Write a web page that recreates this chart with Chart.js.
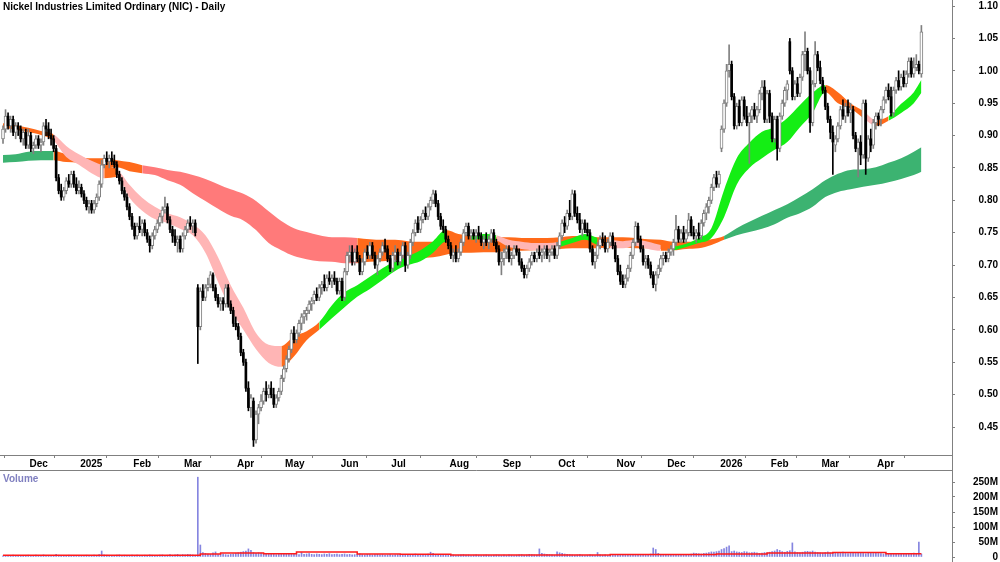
<!DOCTYPE html>
<html>
<head>
<meta charset="utf-8">
<title>NIC - Daily</title>
<script src="https://cdn.jsdelivr.net/npm/chart.js@4.4.0/dist/chart.umd.min.js"></script>
<style>
  html, body { margin: 0; padding: 0; background: #fff; }
  #wrap { position: relative; width: 1000px; height: 562px; overflow: hidden; background: #fff; }
  #priceChart { position: absolute; left: 0; top: 0; }
  #volumeChart { position: absolute; left: 0; top: 470px; }
</style>
</head>
<body>
<div id="wrap">
  <canvas id="priceChart" width="1000" height="470"></canvas>
  <canvas id="volumeChart" width="1000" height="92"></canvas>
</div>
<script>
// Nickel Industries (NIC) daily candles, Nov 2024 - Apr 2026
// one row per month, x = trading-day index

const chartTitle = 'Nickel Industries Limited Ordinary (NIC) - Daily';
const volumeLabel = 'Volume';

const monthStart = [11, 31, 52, 72, 93, 112, 134, 154, 177, 198, 220, 243, 263, 284, 304, 324, 346];
const monthLabels = ['Dec', '2025', 'Feb', 'Mar', 'Apr', 'May', 'Jun', 'Jul', 'Aug', 'Sep', 'Oct', 'Nov', 'Dec', '2026', 'Feb', 'Mar', 'Apr'];
const priceTicks = [0.45, 0.50, 0.55, 0.60, 0.65, 0.70, 0.75, 0.80, 0.85, 0.90, 0.95, 1.00, 1.05, 1.10];
const volumeTicks = [0, 50, 100, 150, 200, 250];

const opens = [
  0.895,0.91,0.93,0.915,0.925,0.905,0.915,0.91,0.895,0.905,0.885,
  0.90,0.88,0.885,0.895,0.885,0.89,0.915,0.91,0.90,0.895,0.88,0.835,0.815,0.805,0.815,0.83,0.825,0.84,0.825,0.815,
  0.82,0.81,0.80,0.79,0.795,0.785,0.795,0.805,0.825,0.855,0.865,0.86,0.865,0.86,0.855,0.84,0.83,0.815,0.805,0.79,0.775,
  0.76,0.745,0.76,0.755,0.765,0.75,0.74,0.73,0.745,0.755,0.765,0.775,0.785,0.79,0.77,0.755,0.745,0.735,0.74,0.725,
  0.745,0.755,0.765,0.76,0.765,0.665,0.605,0.66,0.65,0.665,0.67,0.685,0.665,0.65,0.64,0.645,0.64,0.665,0.64,0.63,0.61,
  0.605,0.59,0.565,0.55,0.51,0.48,0.49,0.43,0.47,0.48,0.49,0.505,0.50,0.51,0.50,0.485,0.495,0.505,0.525,
  0.54,0.555,0.57,0.595,0.585,0.595,0.61,0.62,0.625,0.63,0.64,0.645,0.655,0.65,0.665,0.67,0.665,0.68,0.675,0.68,0.675,0.66,
  0.675,0.65,0.69,0.715,0.72,0.705,0.72,0.71,0.69,0.705,0.72,0.715,0.73,0.715,0.70,0.71,0.72,0.73,0.725,0.71,
  0.695,0.715,0.72,0.705,0.715,0.73,0.70,0.715,0.735,0.75,0.765,0.755,0.77,0.78,0.775,0.79,0.80,0.81,0.795,0.775,0.76,0.755,0.74,
  0.73,0.715,0.72,0.71,0.72,0.735,0.75,0.76,0.745,0.75,0.745,0.75,0.745,0.735,0.74,0.735,0.74,0.75,0.735,0.725,0.705,
  0.71,0.72,0.725,0.71,0.715,0.725,0.72,0.705,0.695,0.685,0.695,0.705,0.715,0.71,0.72,0.715,0.72,0.725,0.715,0.72,0.725,0.715,
  0.73,0.745,0.765,0.76,0.78,0.775,0.81,0.78,0.77,0.755,0.765,0.755,0.75,0.725,0.705,0.715,0.73,0.74,0.735,0.725,0.735,0.745,0.73,
  0.71,0.69,0.675,0.67,0.68,0.695,0.715,0.735,0.76,0.74,0.725,0.705,0.71,0.70,0.685,0.67,0.685,0.695,0.71,0.715,
  0.71,0.72,0.725,0.735,0.755,0.74,0.75,0.74,0.75,0.77,0.75,0.745,0.75,0.745,0.765,0.78,0.79,0.80,0.82,0.835,0.825,
  0.88,0.91,0.95,1.0,1.01,0.96,0.915,0.945,0.92,0.955,0.93,0.92,0.93,0.94,0.93,0.94,0.965,0.975,0.925,0.965,
  0.93,0.895,0.925,0.88,0.93,0.95,0.97,1.045,1.0,0.96,0.98,0.965,0.99,1.025,1.03,1.0,0.92,0.98,1.025,1.005,
  0.985,0.97,0.945,0.925,0.905,0.885,0.895,0.915,0.94,0.93,0.945,0.935,0.94,0.90,0.88,0.89,0.87,0.95,0.865,0.895,0.885,0.92,
  0.93,0.925,0.94,0.955,0.97,0.96,0.935,0.97,0.985,0.975,0.99,0.98,0.995,1.015,0.995,1.005,1.01,0.995
];
const highs = [
  0.915,0.94,0.935,0.93,0.93,0.92,0.92,0.915,0.91,0.91,0.91,
  0.905,0.89,0.90,0.90,0.895,0.92,0.925,0.92,0.91,0.90,0.885,0.84,0.825,0.82,0.835,0.84,0.845,0.845,0.835,0.83,
  0.825,0.815,0.805,0.80,0.80,0.80,0.81,0.83,0.862,0.87,0.875,0.87,0.875,0.87,0.86,0.845,0.835,0.82,0.81,0.795,0.78,
  0.765,0.765,0.775,0.77,0.77,0.755,0.745,0.75,0.76,0.77,0.78,0.79,0.805,0.795,0.775,0.76,0.755,0.745,0.745,0.75,
  0.76,0.77,0.775,0.77,0.77,0.67,0.665,0.67,0.67,0.68,0.69,0.688,0.67,0.655,0.65,0.65,0.67,0.67,0.645,0.635,0.62,
  0.61,0.595,0.57,0.555,0.52,0.50,0.495,0.475,0.485,0.50,0.51,0.52,0.515,0.52,0.51,0.50,0.51,0.53,0.545,
  0.56,0.575,0.60,0.605,0.60,0.615,0.625,0.63,0.635,0.645,0.65,0.66,0.665,0.67,0.675,0.685,0.685,0.69,0.685,0.69,0.68,0.68,
  0.68,0.695,0.72,0.73,0.73,0.725,0.73,0.715,0.71,0.725,0.73,0.735,0.735,0.72,0.715,0.725,0.735,0.74,0.73,0.715,
  0.72,0.73,0.725,0.72,0.735,0.735,0.72,0.74,0.755,0.77,0.775,0.775,0.785,0.79,0.795,0.805,0.816,0.815,0.80,0.78,0.77,0.76,0.745,
  0.735,0.725,0.73,0.725,0.74,0.755,0.765,0.765,0.755,0.755,0.755,0.76,0.75,0.745,0.75,0.745,0.755,0.755,0.74,0.73,0.72,
  0.725,0.73,0.73,0.72,0.73,0.73,0.725,0.71,0.70,0.70,0.71,0.72,0.72,0.725,0.73,0.725,0.73,0.73,0.725,0.73,0.73,0.735,
  0.75,0.77,0.775,0.785,0.80,0.816,0.815,0.79,0.78,0.77,0.77,0.765,0.755,0.73,0.72,0.735,0.745,0.75,0.745,0.74,0.75,0.75,0.735,
  0.715,0.70,0.685,0.685,0.70,0.72,0.74,0.767,0.765,0.745,0.73,0.715,0.715,0.705,0.69,0.69,0.70,0.715,0.72,0.72,
  0.725,0.73,0.74,0.777,0.76,0.755,0.76,0.755,0.78,0.775,0.76,0.755,0.765,0.77,0.785,0.795,0.805,0.825,0.84,0.845,0.845,
  0.915,0.955,1.01,1.04,1.015,0.965,0.95,0.955,0.96,0.96,0.945,0.935,0.945,0.95,0.945,0.97,0.985,0.985,0.97,0.97,
  0.935,0.93,0.93,0.935,0.955,0.975,0.985,1.05,1.005,0.985,0.99,0.995,1.03,1.06,1.035,1.005,0.985,1.045,1.03,1.015,
  0.99,0.975,0.95,0.93,0.915,0.90,0.92,0.945,0.955,0.95,0.955,0.95,0.945,0.905,0.895,0.90,0.955,0.955,0.90,0.91,0.925,0.935,
  0.935,0.945,0.96,0.975,0.98,0.975,0.975,0.99,1.0,0.995,1.0,1.0,1.02,1.02,1.02,1.025,1.015,1.07
];
const lows = [
  0.888,0.905,0.91,0.905,0.90,0.895,0.90,0.89,0.885,0.88,0.88,
  0.875,0.872,0.88,0.88,0.875,0.885,0.90,0.895,0.885,0.875,0.83,0.81,0.80,0.80,0.81,0.82,0.82,0.82,0.81,0.81,
  0.805,0.795,0.785,0.78,0.78,0.78,0.79,0.80,0.82,0.85,0.855,0.85,0.855,0.85,0.835,0.825,0.81,0.80,0.785,0.77,0.755,
  0.74,0.74,0.75,0.745,0.745,0.735,0.72,0.725,0.74,0.75,0.76,0.765,0.78,0.765,0.75,0.735,0.73,0.72,0.72,0.72,
  0.74,0.75,0.755,0.75,0.745,0.548,0.60,0.645,0.645,0.66,0.665,0.66,0.645,0.635,0.63,0.63,0.635,0.635,0.625,0.605,0.60,
  0.585,0.56,0.545,0.505,0.475,0.465,0.42,0.425,0.455,0.475,0.485,0.49,0.495,0.495,0.48,0.48,0.49,0.50,0.52,
  0.535,0.55,0.565,0.58,0.58,0.59,0.60,0.61,0.615,0.625,0.63,0.64,0.645,0.645,0.655,0.66,0.66,0.67,0.665,0.67,0.655,0.655,
  0.645,0.645,0.685,0.705,0.70,0.70,0.705,0.685,0.685,0.70,0.71,0.71,0.71,0.695,0.685,0.705,0.715,0.72,0.705,0.69,
  0.69,0.705,0.70,0.70,0.71,0.69,0.695,0.71,0.73,0.745,0.75,0.75,0.765,0.77,0.77,0.785,0.795,0.79,0.77,0.755,0.75,0.735,0.725,
  0.71,0.705,0.705,0.705,0.715,0.73,0.745,0.74,0.74,0.74,0.735,0.74,0.73,0.725,0.73,0.725,0.735,0.73,0.72,0.70,0.685,
  0.70,0.71,0.705,0.70,0.71,0.715,0.70,0.69,0.68,0.68,0.69,0.70,0.705,0.705,0.71,0.705,0.71,0.71,0.705,0.715,0.71,0.71,
  0.725,0.74,0.75,0.755,0.77,0.77,0.775,0.765,0.75,0.745,0.75,0.745,0.72,0.70,0.695,0.71,0.725,0.73,0.72,0.72,0.73,0.725,0.705,
  0.685,0.67,0.665,0.665,0.675,0.69,0.71,0.73,0.735,0.72,0.70,0.695,0.695,0.68,0.665,0.66,0.68,0.69,0.70,0.705,
  0.705,0.715,0.715,0.73,0.735,0.735,0.735,0.735,0.745,0.745,0.74,0.735,0.74,0.74,0.76,0.77,0.78,0.795,0.815,0.82,0.82,
  0.875,0.905,0.945,0.99,0.955,0.91,0.91,0.915,0.915,0.925,0.915,0.857,0.92,0.925,0.92,0.935,0.955,0.92,0.92,0.92,
  0.89,0.89,0.862,0.875,0.925,0.945,0.955,0.995,0.955,0.955,0.96,0.96,0.985,1.0,0.995,0.905,0.915,0.975,1.0,0.98,
  0.965,0.94,0.92,0.895,0.84,0.875,0.89,0.91,0.925,0.92,0.93,0.92,0.895,0.875,0.836,0.855,0.865,0.84,0.86,0.875,0.88,0.91,
  0.915,0.915,0.935,0.95,0.955,0.93,0.93,0.965,0.97,0.97,0.975,0.975,0.99,0.99,0.99,1.0,0.995,0.99
];
const closes = [
  0.91,0.93,0.915,0.925,0.905,0.915,0.91,0.895,0.905,0.885,0.90,
  0.88,0.885,0.895,0.885,0.89,0.915,0.91,0.90,0.895,0.88,0.835,0.815,0.805,0.815,0.83,0.825,0.84,0.825,0.815,0.82,
  0.81,0.80,0.79,0.795,0.785,0.795,0.805,0.825,0.855,0.865,0.86,0.865,0.86,0.855,0.84,0.83,0.815,0.805,0.79,0.775,0.76,
  0.745,0.76,0.755,0.765,0.75,0.74,0.73,0.745,0.755,0.765,0.775,0.785,0.79,0.77,0.755,0.745,0.735,0.74,0.725,0.745,
  0.755,0.765,0.76,0.765,0.75,0.605,0.66,0.65,0.665,0.67,0.685,0.665,0.65,0.64,0.645,0.64,0.665,0.64,0.63,0.61,0.605,
  0.59,0.565,0.55,0.51,0.48,0.495,0.43,0.47,0.48,0.49,0.505,0.50,0.51,0.50,0.485,0.495,0.505,0.525,0.54,
  0.555,0.57,0.595,0.585,0.595,0.61,0.62,0.625,0.63,0.64,0.645,0.655,0.65,0.665,0.67,0.665,0.68,0.675,0.68,0.675,0.66,0.675,
  0.65,0.69,0.715,0.72,0.705,0.72,0.71,0.69,0.705,0.72,0.715,0.73,0.715,0.70,0.71,0.72,0.73,0.725,0.71,0.695,
  0.715,0.72,0.705,0.715,0.73,0.70,0.715,0.735,0.75,0.765,0.755,0.77,0.78,0.775,0.79,0.80,0.81,0.795,0.775,0.76,0.755,0.74,0.73,
  0.715,0.72,0.71,0.72,0.735,0.75,0.76,0.745,0.75,0.745,0.75,0.745,0.735,0.74,0.735,0.74,0.75,0.735,0.725,0.705,0.71,
  0.72,0.725,0.71,0.715,0.725,0.72,0.705,0.695,0.685,0.695,0.705,0.715,0.71,0.72,0.715,0.72,0.725,0.715,0.72,0.725,0.715,0.73,
  0.745,0.765,0.76,0.78,0.775,0.81,0.78,0.77,0.755,0.765,0.755,0.75,0.725,0.705,0.715,0.73,0.74,0.735,0.725,0.735,0.745,0.73,0.71,
  0.69,0.675,0.67,0.68,0.695,0.715,0.735,0.76,0.74,0.725,0.705,0.71,0.70,0.685,0.67,0.685,0.695,0.71,0.715,0.71,
  0.72,0.725,0.735,0.755,0.74,0.75,0.74,0.75,0.77,0.75,0.745,0.75,0.745,0.765,0.78,0.79,0.80,0.82,0.835,0.825,0.84,
  0.91,0.95,1.0,1.01,0.96,0.915,0.945,0.92,0.955,0.93,0.92,0.93,0.94,0.93,0.94,0.965,0.975,0.925,0.965,0.93,
  0.895,0.925,0.88,0.93,0.95,0.97,0.98,1.0,0.96,0.98,0.965,0.99,1.025,1.03,1.0,0.92,0.98,1.025,1.005,0.985,
  0.97,0.945,0.925,0.905,0.89,0.895,0.915,0.94,0.93,0.945,0.935,0.94,0.90,0.88,0.89,0.87,0.95,0.865,0.895,0.885,0.92,0.93,
  0.925,0.94,0.955,0.97,0.96,0.935,0.97,0.985,0.975,0.99,0.98,0.995,1.015,0.995,1.005,1.01,1.0,1.06
];

// volume in millions of shares
const volumes = [
  4,5,3,4,6,5,3,4,5,4,6,
  5,4,6,5,4,7,5,4,3,5,9,6,5,4,5,6,4,3,2,3,
  4,5,6,5,4,6,5,8,20,7,6,5,4,5,6,7,5,6,5,4,6,
  5,6,4,5,6,5,7,6,5,4,6,7,5,6,8,6,7,9,6,8,
  7,9,8,7,6,266,40,15,12,10,9,14,17,8,9,10,8,7,9,10,12,
  14,16,18,20,27,22,15,12,14,13,10,9,11,9,10,8,9,11,10,
  12,10,11,9,10,8,15,9,10,11,9,8,10,9,8,10,9,11,8,9,10,8,
  9,10,8,9,7,8,9,11,8,7,9,8,7,8,9,7,8,6,7,8,
  6,7,8,6,7,9,7,8,9,10,8,9,7,8,10,16,12,9,8,7,6,8,7,
  6,7,5,6,7,8,6,7,5,6,7,6,5,6,7,6,5,6,7,6,5,
  6,5,7,6,5,6,7,8,6,7,9,8,7,6,27,12,10,9,8,7,6,17,
  14,12,10,9,8,7,6,7,8,6,5,6,7,6,5,15,7,6,7,5,6,7,8,
  7,8,6,7,6,8,9,7,6,8,7,9,8,10,30,25,12,9,8,7,
  6,7,8,7,6,8,7,9,8,10,13,12,11,10,12,13,15,17,16,18,20,
  25,28,33,37,18,20,17,16,15,18,17,14,15,16,14,12,13,15,14,16,
  18,20,25,22,18,16,19,21,47,17,15,14,16,18,19,17,20,16,15,14,
  13,15,17,14,12,13,15,14,16,12,11,13,14,12,15,13,12,11,13,14,12,13,
  12,11,10,12,11,9,10,11,12,10,9,11,10,12,13,11,50,10
];
const volAvgX = [0, 78, 86, 103, 116, 140, 157, 177, 240, 282, 302, 328, 349, 363];
const volAvg = [6, 10, 13, 11, 17, 10, 9, 7, 8, 10, 13, 15, 11, 11];

// moving-average ribbons, read every 5 trading days
const bandX = [0,5,10,15,20,25,30,35,40,45,50,55,60,65,70,75,80,85,90,95,100,105,110,115,120,125,130,135,140,145,
  150,155,160,165,170,175,180,185,190,195,200,205,210,215,220,225,230,235,240,245,250,255,260,265,270,275,280,285,290,295,
  300,305,310,315,320,325,330,335,340,345,350,355,360,363];
const shortTop = [
  0.919,0.916,0.912,0.907,0.902,0.884,0.871,0.861,0.853,0.848,
  0.824,0.804,0.790,0.780,0.774,0.763,0.746,0.712,0.669,0.634,
  0.595,0.577,0.575,0.590,0.598,0.612,0.638,0.658,0.669,0.682,
  0.695,0.706,0.714,0.723,0.737,0.754,0.748,0.746,0.748,0.746,
  0.739,0.736,0.734,0.734,0.736,0.742,0.748,0.742,0.739,0.737,
  0.739,0.736,0.731,0.729,0.733,0.742,0.757,0.816,0.865,0.889,
  0.906,0.913,0.927,0.947,0.966,0.978,0.967,0.950,0.938,0.924,
  0.930,0.949,0.967,0.986
];
const shortBot = [
  0.912,0.909,0.905,0.901,0.892,0.867,0.855,0.842,0.834,0.836,
  0.804,0.784,0.771,0.765,0.756,0.746,0.719,0.674,0.631,0.600,
  0.570,0.549,0.543,0.559,0.584,0.600,0.618,0.635,0.651,0.663,
  0.677,0.691,0.700,0.706,0.719,0.736,0.729,0.739,0.740,0.738,
  0.728,0.725,0.723,0.724,0.728,0.734,0.739,0.731,0.726,0.726,
  0.730,0.725,0.722,0.723,0.728,0.734,0.742,0.774,0.824,0.850,
  0.865,0.878,0.890,0.913,0.935,0.967,0.950,0.942,0.927,0.915,
  0.923,0.935,0.950,0.966
];
const longTop = [
  0.870,0.871,0.875,0.876,0.876,0.871,0.867,0.865,0.865,0.862,
  0.859,0.854,0.851,0.847,0.844,0.839,0.833,0.825,0.817,0.810,
  0.799,0.783,0.768,0.757,0.751,0.746,0.743,0.743,0.742,0.740,
  0.739,0.739,0.737,0.736,0.736,0.739,0.742,0.742,0.743,0.743,
  0.743,0.742,0.742,0.742,0.743,0.745,0.745,0.743,0.743,0.743,
  0.742,0.740,0.739,0.736,0.736,0.737,0.740,0.745,0.757,0.767,
  0.776,0.785,0.794,0.805,0.817,0.831,0.841,0.847,0.848,0.851,
  0.858,0.865,0.875,0.882
];
const longBot = [
  0.858,0.859,0.861,0.862,0.862,0.859,0.858,0.855,0.851,0.851,
  0.845,0.842,0.839,0.831,0.824,0.811,0.799,0.787,0.776,0.769,
  0.754,0.734,0.723,0.714,0.709,0.706,0.705,0.703,0.703,0.705,
  0.706,0.708,0.709,0.711,0.712,0.716,0.719,0.719,0.720,0.720,
  0.722,0.722,0.723,0.723,0.725,0.726,0.726,0.726,0.728,0.728,
  0.726,0.726,0.725,0.723,0.725,0.726,0.731,0.739,0.746,0.751,
  0.756,0.763,0.773,0.780,0.790,0.805,0.813,0.817,0.821,0.824,
  0.828,0.833,0.839,0.844
];
// ribbon trend: 1 rising, 0 mixed, -1 falling (from the index given)
const shortTrendStart = [0, 20, 40, 47, 112, 123, 177, 183, 196, 220, 233, 238, 262, 266, 325, 338, 346, 350];
const shortTrendDir = [0, -1, 0, -1, 0, 1, 0, 1, -1, 1, 0, -1, 0, 1, 0, -1, 0, 1];
const longTrendStart = [0, 20, 55, 140, 285];
const longTrendDir = [1, 0, -1, 0, 1];

// axis window (trading-day index / price)
const xMin = -1.19, xMax = 375.1;
const priceMin = 0.4068, priceMax = 1.1093;

const shortColors = ['#ffb5b5', '#ff6a1a', '#14ee14'];
const longColors = ['#ff7a7a', '#ff6a1a', '#3cb371'];

Chart.defaults.font.family = 'Arial, "Liberation Sans", sans-serif';
Chart.defaults.font.size = 10;
Chart.defaults.color = '#000';

function bandSeries(values) {
  return bandX.map((x, k) => ({ x: x, y: values[k] }));
}

function trendAt(starts, dirs, x) {
  let d = dirs[0];
  for (let k = 0; k < starts.length; k++) {
    if (starts[k] <= x) d = dirs[k];
  }
  return d;
}

function bandFill(starts, dirs, palette) {
  return (ctx) => {
    const mid = (bandX[ctx.p0DataIndex] + bandX[ctx.p1DataIndex]) / 2;
    return palette[trendAt(starts, dirs, mid) + 1];
  };
}

function ribbon(top, bottom, starts, dirs, palette, order) {
  const common = {
    type: 'line',
    borderWidth: 0,
    borderColor: 'rgba(0,0,0,0)',
    pointRadius: 0,
    cubicInterpolationMode: 'monotone',
    order: order
  };
  return [
    Object.assign({}, common, {
      data: bandSeries(top),
      fill: '+1',
      backgroundColor: palette[1],
      segment: { backgroundColor: bandFill(starts, dirs, palette) }
    }),
    Object.assign({}, common, { data: bandSeries(bottom), fill: false })
  ];
}

const isUp = (i) => closes[i] >= opens[i];
const upIdx = opens.map((o, i) => i).filter(i => isUp(i));
const downIdx = opens.map((o, i) => i).filter(i => !isUp(i));

// no extra padding for edge tick labels, keep the plot box fixed
function noPad(size, key) {
  return (s) => {
    s[key] = size;
    s.paddingTop = 0; s.paddingBottom = 0; s.paddingLeft = 0; s.paddingRight = 0;
  };
}

const framePlugin = {
  id: 'frame',
  afterDraw(chart, args, opts) {
    const { ctx, chartArea } = chart;
    const right = Math.round(chartArea.right) + 0.5;
    ctx.save();
    ctx.strokeStyle = '#808080';
    ctx.lineWidth = 1;
    ctx.beginPath();
    ctx.moveTo(right, 0);
    ctx.lineTo(right, chart.height);
    if (opts.topLine) {
      ctx.moveTo(0, 0.5);
      ctx.lineTo(right, 0.5);
    }
    ctx.stroke();
    if (opts.text) {
      ctx.font = 'bold 10px Arial, "Liberation Sans", sans-serif';
      ctx.fillStyle = opts.textColor;
      ctx.textBaseline = 'top';
      ctx.textAlign = 'left';
      ctx.fillText(opts.text, opts.textX, opts.textY);
    }
    ctx.restore();
  }
};

const xAxisBase = { type: 'linear', min: xMin, max: xMax, offset: false };

new Chart(document.getElementById('priceChart'), {
  type: 'bar',
  data: {
    datasets: [
      ...ribbon(longTop, longBot, longTrendStart, longTrendDir, longColors, 5),
      ...ribbon(shortTop, shortBot, shortTrendStart, shortTrendDir, shortColors, 4),
      {
        type: 'bar',
        data: opens.map((o, i) => ({ x: i, y: [lows[i], highs[i]] })),
        barThickness: 1,
        grouped: false,
        borderWidth: 0,
        backgroundColor: (ctx) => isUp(ctx.dataIndex) ? '#808080' : '#000',
        order: 3
      },
      {
        type: 'bar',
        data: upIdx.map(i => ({ x: i, y: [opens[i], closes[i]] })),
        barThickness: 3,
        grouped: false,
        borderSkipped: false,
        borderWidth: 1,
        borderColor: '#808080',
        backgroundColor: '#fff',
        order: 2
      },
      {
        type: 'bar',
        data: downIdx.map(i => ({ x: i, y: [opens[i], closes[i]] })),
        barThickness: 2,
        grouped: false,
        borderWidth: 0,
        backgroundColor: '#000',
        order: 1
      }
    ]
  },
  options: {
    responsive: false,
    animation: false,
    devicePixelRatio: 1,
    events: [],
    layout: { padding: { left: 0, right: 2, top: 0, bottom: 0 } },
    plugins: {
      legend: { display: false },
      tooltip: { enabled: false },
      frame: { topLine: false, text: chartTitle, textColor: '#000', textX: 3, textY: 2 }
    },
    scales: {
      x: Object.assign({}, xAxisBase, {
        afterBuildTicks: (s) => { s.ticks = monthStart.map(v => ({ value: v - 0.5 })); },
        afterFit: noPad(15, 'height'),
        grid: { drawOnChartArea: false, drawTicks: true, tickLength: 3, color: '#808080' },
        border: { display: true, color: '#808080' },
        ticks: {
          autoSkip: false, maxRotation: 0, align: 'start', padding: 0,
          font: { size: 10, weight: 'bold' },
          callback: (v, idx) => monthLabels[idx]
        }
      }),
      y: {
        position: 'right',
        min: priceMin,
        max: priceMax,
        afterBuildTicks: (s) => { s.ticks = priceTicks.map(v => ({ value: v })); },
        afterFit: noPad(46, 'width'),
        grid: { drawOnChartArea: false, drawTicks: true, tickLength: 3, color: '#808080' },
        border: { display: true, color: '#808080' },
        ticks: {
          crossAlign: 'far',
          font: { size: 10, weight: 'bold' },
          callback: (v) => Number(v).toFixed(2)
        }
      }
    }
  },
  plugins: [framePlugin]
});

new Chart(document.getElementById('volumeChart'), {
  type: 'bar',
  data: {
    datasets: [
      {
        type: 'line',
        data: volAvgX.map((x, k) => ({ x: x, y: volAvg[k] })),
        stepped: true,
        borderColor: '#ff1a1a',
        borderWidth: 1.5,
        pointRadius: 0,
        order: 1
      },
      {
        type: 'bar',
        data: volumes.map((v, i) => ({ x: i, y: v })),
        barThickness: 1,
        grouped: false,
        backgroundColor: '#8585e0',
        order: 2
      }
    ]
  },
  options: {
    responsive: false,
    animation: false,
    devicePixelRatio: 1,
    events: [],
    layout: { padding: { left: 0, right: 2, top: 0, bottom: 5 } },
    plugins: {
      legend: { display: false },
      tooltip: { enabled: false },
      frame: { topLine: true, text: volumeLabel, textColor: '#8080c0', textX: 3, textY: 4 }
    },
    scales: {
      x: Object.assign({}, xAxisBase, { display: false }),
      y: {
        position: 'right',
        min: 0,
        max: 290,
        afterBuildTicks: (s) => { s.ticks = volumeTicks.map(v => ({ value: v })); },
        afterFit: noPad(46, 'width'),
        grid: { drawOnChartArea: false, drawTicks: true, tickLength: 3, color: '#808080' },
        border: { display: true, color: '#808080' },
        ticks: {
          crossAlign: 'far',
          font: { size: 10, weight: 'bold' },
          callback: (v) => v === 0 ? '0' : v + 'M'
        }
      }
    }
  },
  plugins: [framePlugin]
});
</script>
</body>
</html>
